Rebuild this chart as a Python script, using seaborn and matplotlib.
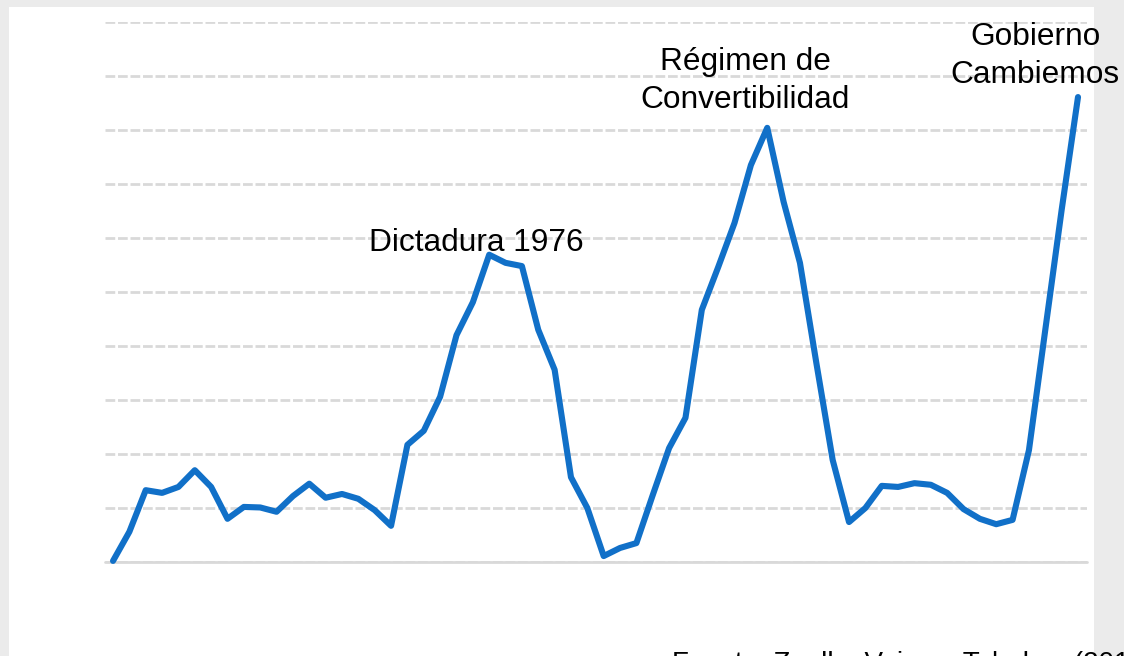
import numpy as np
import pandas as pd
import matplotlib
matplotlib.use("Agg")
import matplotlib.pyplot as plt
from matplotlib.patches import Rectangle
import seaborn as sns

# ---- data (gridline step = 10 units) ----
years = list(range(1960, 2020))
values = [0.2, 5.6, 13.3, 12.8, 13.9, 17.0, 13.9, 8.0, 10.2, 10.1,
          9.3, 12.2, 14.5, 11.9, 12.6, 11.7, 9.6, 6.7, 21.7, 24.3,
          30.6, 42.0, 48.1, 56.9, 55.4, 54.8, 43.0, 35.6, 15.7, 10.0,
          1.1, 2.6, 3.5, 12.4, 21.1, 26.7, 46.7, 54.6, 62.8, 73.5,
          80.4, 66.7, 55.4, 36.9, 18.9, 7.4, 10.0, 14.1, 13.9, 14.6,
          14.3, 12.8, 9.8, 8.0, 7.0, 7.8, 20.7, 43.0, 65.2, 86.1]
y_ticks = list(range(0, 101, 10))
annot_labels = ["Dictadura 1976", "Régimen de\nConvertibilidad", "Gobierno\nCambiemos"]
source_text = "Fuente: Zuelle, Veiga y Tabakov (2019)"

df = pd.DataFrame({"year": years, "value": values})

sns.set_theme(style="white")
plt.rcParams["font.family"] = ["Liberation Sans", "DejaVu Sans"]

W, H = 1124, 656
fig = plt.figure(figsize=(W / 100, H / 100), dpi=100)
fig.patch.set_facecolor("#ebebeb")
fig.patches.append(Rectangle((9 / W, 0), (1094 - 9) / W, (H - 7) / H,
                             transform=fig.transFigure, facecolor="white",
                             edgecolor="none", zorder=0))

ax = fig.add_axes([105 / W, (H - 562) / H, 982 / W, 540 / H])
ax.set_zorder(2)
ax.set_facecolor("none")

sns.lineplot(data=df, x="year", y="value", ax=ax, color="#1170C8",
             linewidth=4.4, zorder=3)
for ln in ax.lines:
    ln.set_solid_capstyle("round")
    ln.set_solid_joinstyle("round")
    ln.set_clip_on(False)

ax.set_xlim(1960 - 0.49, 2019 + 0.55)
ax.set_ylim(0, 100)
ax.set_yticks(y_ticks)
ax.set_xticks([])
ax.tick_params(left=False, bottom=False, labelleft=False, labelbottom=False)
ax.yaxis.grid(True, color="#d9d9d9", linestyle=(0, (3.5, 1.0)), linewidth=2.0)
ax.xaxis.grid(False)
ax.set_axisbelow(True)
base = ax.axhline(0, color="#d9d9d9", linewidth=2.0, zorder=1)
base.set_clip_on(False)
for s in ax.spines.values():
    s.set_visible(False)
ax.set_xlabel("")
ax.set_ylabel("")

fs = 22.8
ax.text((476 - 105) / 982, (562 - 251) / 540, annot_labels[0], transform=ax.transAxes,
        ha="center", va="baseline", fontsize=fs, color="black")
ax.text((745 - 105) / 982, (562 - 108) / 540, annot_labels[1], transform=ax.transAxes,
        ha="center", va="baseline", fontsize=fs, color="black",
        multialignment="center", linespacing=1.33)
ax.text((1035 - 105) / 982, (562 - 83) / 540, annot_labels[2], transform=ax.transAxes,
        ha="center", va="baseline", fontsize=fs, color="black",
        multialignment="center", linespacing=1.33)

fig.text(672 / W, (H - 651) / H, source_text, ha="left", va="top",
         fontsize=20, color="black")

fig.savefig("out.png", dpi=100, facecolor=fig.get_facecolor())
